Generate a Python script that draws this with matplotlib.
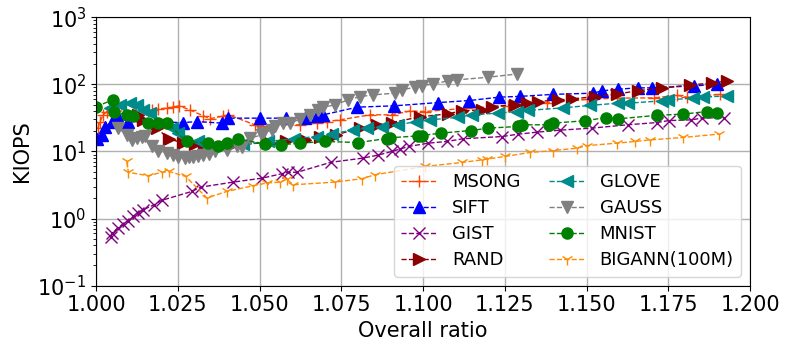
import numpy as np
from matplotlib import pyplot as plt

# overall ratio / KIOPS
msong_x = [1.0006, 1.0012, 1.0022, 1.0033, 1.017, 1.0191, 1.0216, 1.0236, 1.0254, 1.0287,
           1.0328, 1.0349, 1.0389, 1.0405, 1.0486, 1.0507, 1.0624, 1.0675, 1.0707, 1.0746,
           1.0838, 1.0905, 1.096, 1.1006, 1.113, 1.126, 1.138, 1.1502, 1.1592, 1.1706,
           1.1777, 1.1806, 1.1908]
msong_y = [22.3, 27.9, 35.2, 39.4, 41.7, 42.8, 44.3, 45.8, 47.9, 41.7,
           34.0, 30.9, 33.7, 35.2, 25.0, 24.1, 25.0, 26.5, 27.9, 29.6,
           35.2, 35.2, 40.1, 39.4, 44.0, 47.9, 53.0, 59.8, 62.4, 63.0,
           68.6, 64.5, 71.0]

sift_x = [1.0003, 1.0017, 1.0028, 1.0048, 1.0063, 1.0099, 1.0267, 1.031, 1.0384, 1.0405,
          1.0502, 1.058, 1.0639, 1.0675, 1.0695, 1.0799, 1.0911, 1.1047, 1.1141, 1.1232,
          1.1297, 1.1398, 1.1521, 1.1546, 1.1597, 1.1656, 1.1699, 1.1829, 1.1898]
sift_y = [15.5, 17.7, 22.9, 27.9, 34.6, 27.9, 27.0, 27.9, 26.5, 31.4,
          31.4, 31.4, 31.4, 34.0, 35.2, 45.8, 47.9, 53.6, 57.4, 64.5,
          66.3, 71.0, 74.0, 80.0, 84.8, 88.8, 88.8, 95.0, 100.0]

gist_x = [1.0046, 1.005, 1.0066, 1.0084, 1.0099, 1.0114, 1.0127, 1.0145, 1.0178, 1.0201,
          1.0293, 1.0321, 1.042, 1.0507, 1.0568, 1.0586, 1.0615, 1.0718, 1.0817, 1.0863,
          1.0904, 1.093, 1.0957, 1.1016, 1.1072, 1.1123, 1.1241, 1.1291, 1.1348, 1.1419,
          1.1516, 1.1626, 1.1715, 1.1752, 1.182, 1.1852, 1.1921]
gist_y = [0.53, 0.61, 0.72, 0.84, 0.93, 1.08, 1.21, 1.36, 1.61, 1.87,
          2.54, 2.95, 3.5, 4.0, 4.66, 4.9, 4.9, 6.9, 7.98, 8.84,
          10.0, 10.9, 11.9, 13.3, 14.1, 15.5, 16.7, 18.1, 19.4, 20.8,
          22.3, 25.0, 27.0, 28.9, 29.6, 31.4, 32.0]

rand_x = [1.0129, 1.0145, 1.0186, 1.0223, 1.0267, 1.0303, 1.033, 1.0415, 1.0532, 1.0581,
          1.0639, 1.0685, 1.0734, 1.0807, 1.0858, 1.0904, 1.0991, 1.1076, 1.1118, 1.118,
          1.121, 1.1281, 1.1317, 1.1352, 1.1414, 1.1457, 1.1526, 1.1592, 1.1658, 1.173,
          1.1817, 1.1883, 1.1929]
rand_y = [35.2, 29.6, 22.3, 15.3, 13.5, 13.1, 12.6, 12.6, 13.6, 14.2,
          14.9, 16.7, 17.7, 22.3, 25.0, 27.0, 32.8, 36.4, 40.4, 41.8,
          46.8, 49.6, 52.5, 55.5, 58.8, 60.8, 65.8, 71.4, 80.9, 87.8,
          98.4, 104.0, 114.0]

glove_x = [1.0043, 1.0073, 1.0104, 1.0124, 1.0145, 1.0165, 1.0232, 1.0252, 1.0313, 1.045,
           1.0527, 1.0606, 1.0675, 1.0722, 1.0787, 1.0828, 1.0874, 1.0924, 1.0979, 1.1021,
           1.1106, 1.1149, 1.123, 1.1287, 1.1321, 1.1429, 1.1511, 1.1597, 1.1628, 1.173,
           1.175, 1.1827, 1.1857, 1.1929]
glove_y = [44.3, 49.6, 52.5, 49.6, 41.8, 37.3, 22.3, 18.8, 14.1, 12.8,
           14.1, 15.5, 16.7, 18.3, 21.0, 22.1, 23.3, 25.0, 27.9, 29.6,
           32.3, 35.2, 37.3, 39.4, 41.0, 44.7, 48.7, 52.5, 52.5, 56.8,
           58.8, 62.4, 64.5, 67.5]

gauss_x = [1.0068, 1.0094, 1.0109, 1.0124, 1.014, 1.015, 1.017, 1.019, 1.0216, 1.0234,
           1.0252, 1.0272, 1.0285, 1.0298, 1.0313, 1.0328, 1.0346, 1.0364, 1.04, 1.043,
           1.0446, 1.0471, 1.0507, 1.0512, 1.0537, 1.0547, 1.0573, 1.0593, 1.0624, 1.0654,
           1.068, 1.0695, 1.0731, 1.0771, 1.0807, 1.0848, 1.0914, 1.0935, 1.0976, 1.0996,
           1.1031, 1.1077, 1.1103, 1.12, 1.1288]
gauss_y = [22.3, 17.7, 14.9, 15.8, 16.7, 17.1, 11.9, 10.0, 9.5, 8.8,
           8.4, 8.0, 8.2, 8.4, 8.6, 8.9, 9.3, 10.0, 10.6, 11.9,
           11.6, 15.8, 17.7, 18.8, 21.0, 24.1, 26.5, 26.5, 30.4, 35.2,
           41.8, 45.8, 49.6, 58.8, 65.8, 69.8, 74.0, 82.8, 90.8, 95.0,
           101.7, 112.7, 116.7, 128.0, 143.0]

mnist_x = [1.0, 1.0051, 1.0055, 1.0094, 1.0114, 1.016, 1.019, 1.0216, 1.0277, 1.0343,
           1.0374, 1.04, 1.0433, 1.0517, 1.0565, 1.0624, 1.07, 1.0802, 1.0889, 1.0899,
           1.0986, 1.0996, 1.1055, 1.1146, 1.12, 1.1291, 1.1302, 1.1386, 1.1398, 1.1495,
           1.1559, 1.1597, 1.1717, 1.1796, 1.1868, 1.1898]
mnist_y = [46.7, 58.7, 39.4, 35.2, 34.0, 27.0, 27.0, 27.0, 14.1, 13.3,
           11.9, 13.6, 15.3, 13.0, 12.6, 13.3, 14.1, 13.6, 15.6, 16.0,
           17.1, 17.3, 18.8, 20.5, 22.3, 23.6, 25.0, 25.0, 26.5, 28.7,
           32.0, 30.7, 34.6, 36.1, 39.4, 38.0]

bigann_x = [1.0094, 1.0099, 1.016, 1.0201, 1.0223, 1.0274, 1.0339, 1.04, 1.0481, 1.0522,
            1.0563, 1.0583, 1.0603, 1.0731, 1.0813, 1.0853, 1.1006, 1.1119, 1.118, 1.1195,
            1.1251, 1.1327, 1.1398, 1.147, 1.15, 1.1592, 1.1648, 1.1694, 1.1796, 1.1906]
bigann_y = [7.1, 4.9, 4.35, 4.9, 5.04, 4.25, 2.03, 2.54, 3.09, 3.39,
            3.5, 3.88, 3.19, 3.5, 3.93, 4.5, 5.98, 6.86, 7.5, 7.7,
            8.43, 9.67, 10.3, 11.2, 12.2, 13.3, 14.1, 14.9, 16.2, 18.2]

series = [
    ("MSONG", msong_x, msong_y, "orangered", "+"),
    ("SIFT", sift_x, sift_y, "blue", "^"),
    ("GIST", gist_x, gist_y, "purple", "x"),
    ("RAND", rand_x, rand_y, "darkred", ">"),
    ("GLOVE", glove_x, glove_y, "darkcyan", "<"),
    ("GAUSS", gauss_x, gauss_y, "gray", "v"),
    ("MNIST", mnist_x, mnist_y, "green", "o"),
    ("BIGANN(100M)", bigann_x, bigann_y, "darkorange", "1"),
]

fig = plt.figure(figsize=(7.89, 3.53), dpi=100)
ax = fig.add_axes([0.1217, 0.1907, 0.8289, 0.7603])

for name, xs, ys, color, marker in series:
    ms = 9 if marker in ("+", "x", "1") else 8
    ax.plot(xs, ys, linestyle="--", linewidth=1, color=color, marker=marker,
            markersize=ms, label=name)

ax.set_yscale("log")
ax.set_xlim(1.0, 1.2)
ax.set_ylim(0.1, 1000)
ax.set_xticks(np.arange(1.0, 1.2001, 0.025))
ax.set_xticklabels(["%.3f" % v for v in np.arange(1.0, 1.2001, 0.025)])
ax.tick_params(labelsize=15)
ax.grid(True, which="major", color="#b0b0b0", linewidth=1)
ax.set_xlabel("Overall ratio", fontsize=15)
ax.set_ylabel("KIOPS", fontsize=15)
ax.legend(loc="lower right", ncol=2, fontsize=13, labelspacing=0.45,
          columnspacing=1.6)

fig.savefig("out.png", dpi=100)
